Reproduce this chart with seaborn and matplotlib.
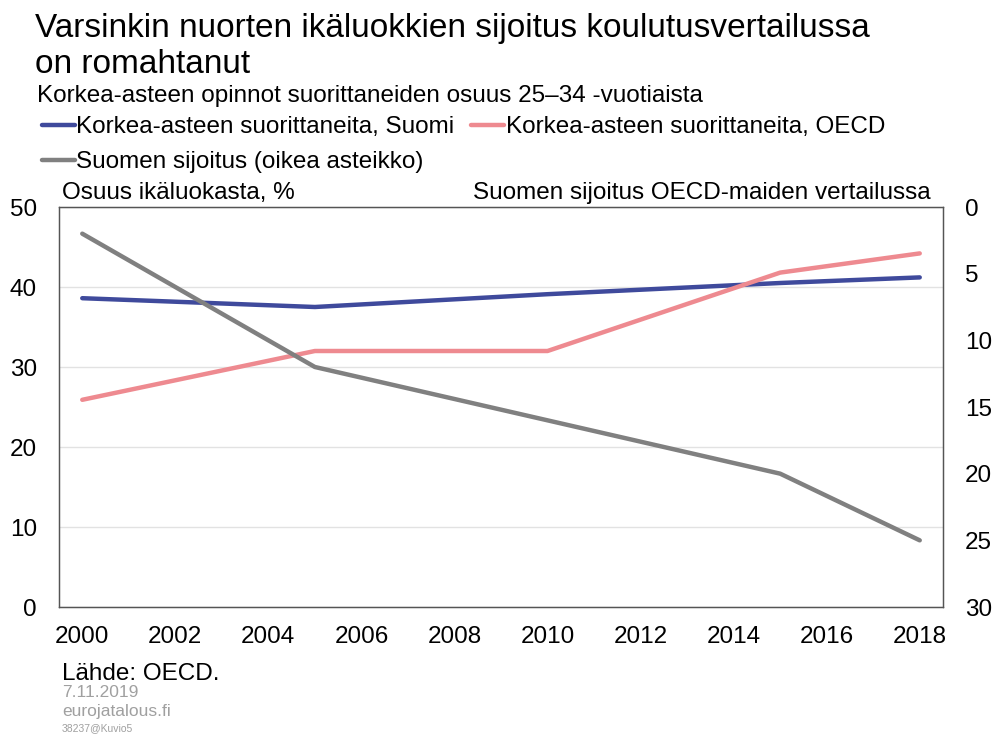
import pandas as pd
import seaborn as sns
import matplotlib.pyplot as plt

years = [2000, 2005, 2010, 2015, 2018]
suomi = [38.6, 37.5, 39.1, 40.5, 41.2]
oecd = [25.9, 32.0, 32.0, 41.8, 44.2]
sijoitus = [2, 12, 16, 20, 25]

left_ticks = [0, 10, 20, 30, 40, 50]
right_ticks = [0, 5, 10, 15, 20, 25, 30]
x_ticks = list(range(2000, 2019, 2))

df = pd.DataFrame({"Vuosi": years, "Suomi": suomi, "OECD": oecd, "Sijoitus": sijoitus})

sns.set_style("white")
plt.rcParams["font.family"] = ["Liberation Sans", "DejaVu Sans"]
plt.rcParams["text.color"] = "black"
plt.rcParams["xtick.color"] = "black"
plt.rcParams["ytick.color"] = "black"

blue = "#3f4a9c"
pink = "#ee8a90"
grey = "#808080"

fig = plt.figure(figsize=(9.94, 7.36), dpi=100)
ax = fig.add_axes([59 / 994, 1 - 607 / 736, (943 - 59) / 994, 400 / 736])

sns.lineplot(data=df, x="Vuosi", y="Suomi", ax=ax, color=blue, lw=3.2,
             label="Korkea-asteen suorittaneita, Suomi", legend=False)
sns.lineplot(data=df, x="Vuosi", y="OECD", ax=ax, color=pink, lw=3.2,
             label="Korkea-asteen suorittaneita, OECD", legend=False)

ax2 = ax.twinx()
sns.lineplot(data=df, x="Vuosi", y="Sijoitus", ax=ax2, color=grey, lw=3.2,
             label="Suomen sijoitus (oikea asteikko)", legend=False)

ax.set_xlim(1999.5, 2018.5)
ax.set_ylim(0, 50)
ax2.set_ylim(30, 0)
ax.set_xticks(x_ticks)
ax.set_yticks(left_ticks)
ax2.set_yticks(right_ticks)
ax.set_xlabel("")
ax.set_ylabel("")
ax2.set_ylabel("")

ax.grid(axis="y", color="#e2e2e2", lw=1)
ax.set_axisbelow(True)
for a in (ax, ax2):
    for s in a.spines.values():
        s.set_color("#555555")
        s.set_linewidth(0.9)
ax.tick_params(axis="y", length=0, pad=16, labelsize=17.5)
ax.tick_params(axis="x", length=0, pad=14, labelsize=17.5)
ax2.tick_params(axis="y", length=0, pad=16, labelsize=17.5)

# titles and axis captions
fig.text(35 / 994, 1 - 37 / 736, "Varsinkin nuorten ikäluokkien sijoitus koulutusvertailussa",
         fontsize=24, va="baseline")
fig.text(35 / 994, 1 - 73 / 736, "on romahtanut", fontsize=24, va="baseline")
fig.text(37 / 994, 1 - 102 / 736, "Korkea-asteen opinnot suorittaneiden osuus 25–34 -vuotiaista",
         fontsize=17.5, va="baseline")
fig.text(62 / 994, 1 - 199 / 736, "Osuus ikäluokasta, %", fontsize=17.5, va="baseline")
fig.text(931 / 994, 1 - 199 / 736, "Suomen sijoitus OECD-maiden vertailussa",
         fontsize=17.5, va="baseline", ha="right")

# legend: row 1 Suomi + OECD, row 2 ranking
h1, l1 = ax.get_legend_handles_labels()
h2, l2 = ax2.get_legend_handles_labels()
handles = [h1[0], h2[0], h1[1]]
labels = [l1[0], l2[0], l1[1]]
fig.legend(handles, labels, loc="upper left", bbox_to_anchor=(42 / 994, 1 - 116 / 736),
           ncol=2, frameon=False, fontsize=17.5, handlelength=1.36, handletextpad=0.05,
           columnspacing=0.7, labelspacing=0.55, borderaxespad=0, borderpad=0)

# source
fig.text(62 / 994, 1 - 680 / 736, "Lähde: OECD.", fontsize=17.5, va="baseline")
fig.text(62 / 994, 1 - 697 / 736, "7.11.2019", fontsize=12.5, color="#a0a0a0", va="baseline")
fig.text(62 / 994, 1 - 716 / 736, "eurojatalous.fi", fontsize=12.5, color="#a0a0a0", va="baseline")
fig.text(62 / 994, 1 - 731 / 736, "38237@Kuvio5", fontsize=7.5, color="#a0a0a0", va="baseline")

fig.savefig("out.png", dpi=100)
